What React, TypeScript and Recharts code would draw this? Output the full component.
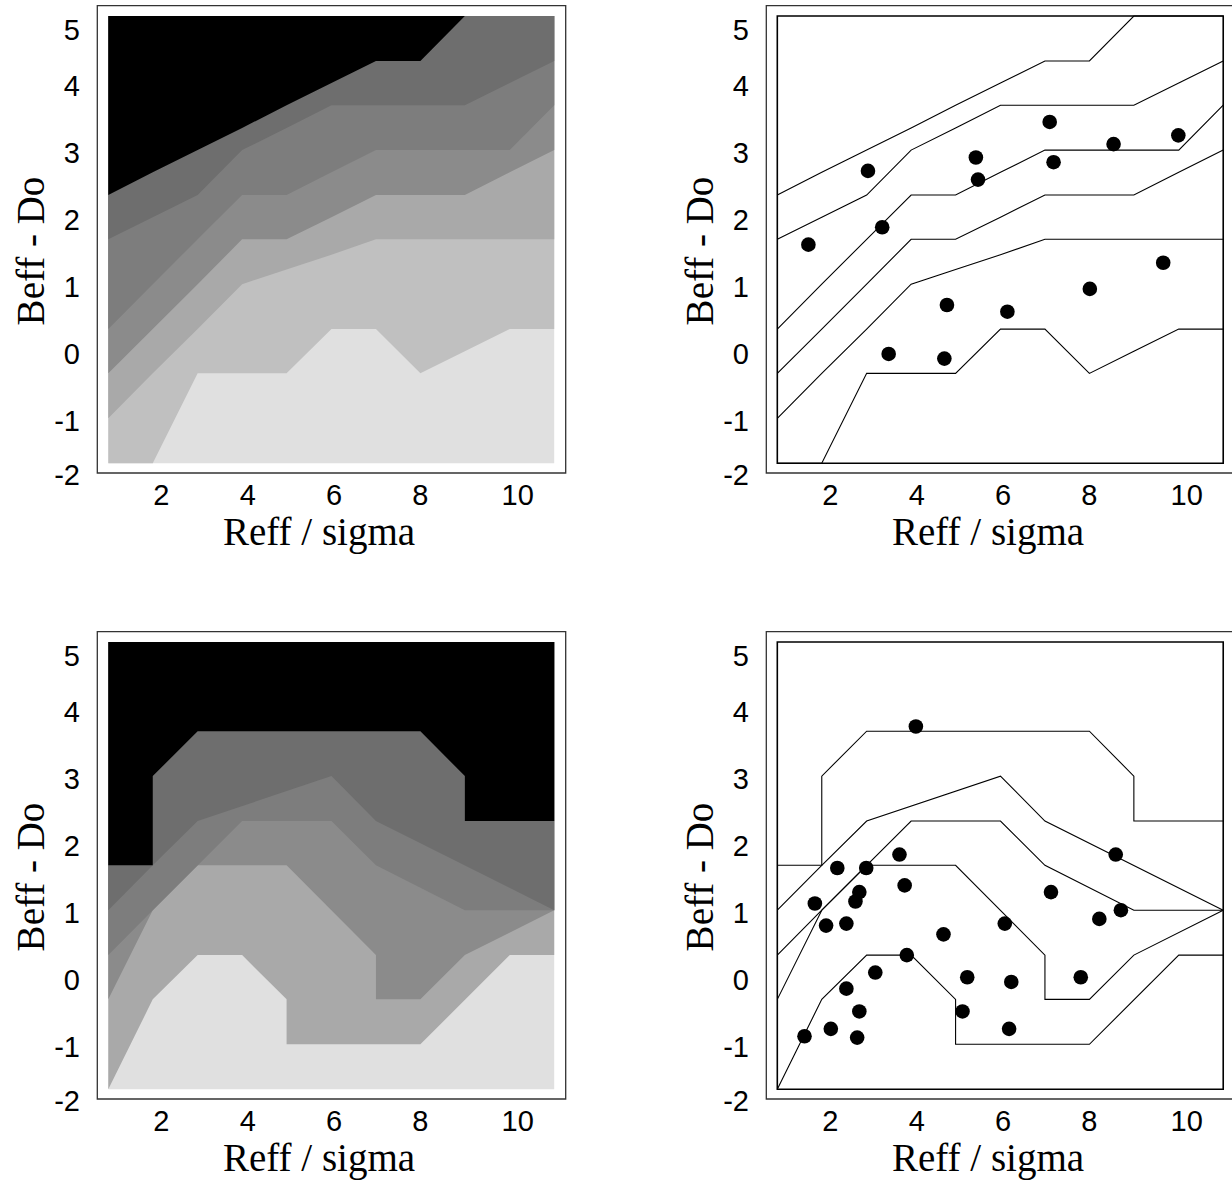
import React from "react";
import { Area, ComposedChart, Line, ReferenceArea, Scatter, XAxis, YAxis } from "recharts";

// grid columns (x) where contour vertices sit
const gridX = [0.77, 1.8, 2.84, 3.87, 4.9, 5.94, 6.97, 8.0, 9.03, 10.07, 11.1];
const fillTop = 5.0;
const fillBottom = -1.67;
const xDomain = [0.515, 11.366];
const yDomain = [-1.816, 5.154];
const xTicks = [2, 4, 6, 8, 10];
const yTicks = [-2, -1, 0, 1, 2, 3, 4, 5];

// upper row: contour height at each grid column, lowest level first
const upperC1 = [-1.67, -1.67, -0.33, -0.33, -0.33, 0.33, 0.33, -0.33, 0.0, 0.33, 0.33];
const upperC2 = [-1.0, -0.33, 0.33, 1.0, 1.22, 1.44, 1.67, 1.67, 1.67, 1.67, 1.67];
const upperC3 = [-0.33, 0.33, 1.0, 1.67, 1.67, 2.0, 2.33, 2.33, 2.33, 2.67, 3.0];
const upperC4 = [0.33, 1.0, 1.67, 2.33, 2.33, 2.67, 3.0, 3.0, 3.0, 3.0, 3.67];
const upperC5 = [1.67, 2.0, 2.33, 3.0, 3.33, 3.67, 3.67, 3.67, 3.67, 4.0, 4.33];
const upperC6 = [2.33, 2.67, 3.0, 3.33, 3.67, 4.0, 4.33, 4.33, 5.0, 5.0, 5.0];
const upperColors = ["#c0c0c0", "#a9a9a9", "#8b8b8b", "#7d7d7d", "#6e6e6e", "#000000"];

// lower row: contour vertices [x, y], lowest level first
const lowerC1 = [[0.77, -1.67], [1.8, -0.33], [2.84, 0.33], [3.87, 0.33], [4.9, -0.33], [4.9, -1.0], [8.0, -1.0], [10.07, 0.33], [11.1, 0.33]];
const lowerC2 = [[0.77, -0.33], [1.8, 1.0], [2.84, 1.67], [4.9, 1.67], [6.97, 0.33], [6.97, -0.33], [8.0, -0.33], [9.03, 0.33], [11.1, 1.0]];
const lowerC3 = [[0.77, 0.33], [1.8, 1.0], [3.87, 2.33], [5.94, 2.33], [6.97, 1.67], [9.03, 1.0], [11.1, 1.0]];
const lowerC4 = [[0.77, 1.0], [1.8, 1.67], [2.84, 2.33], [5.94, 3.0], [6.97, 2.33], [11.1, 1.0]];
const lowerC5 = [[0.77, 1.67], [1.8, 1.67], [1.8, 3.0], [2.84, 3.67], [8.0, 3.67], [9.03, 3.0], [9.03, 2.33], [11.1, 2.33]];
const lowerColors = ["#a9a9a9", "#8b8b8b", "#7d7d7d", "#6e6e6e", "#000000"];

// measured points
const upperDotX = [1.49, 2.87, 3.2, 3.35, 4.7, 4.64, 5.37, 5.42, 6.1, 7.08, 7.17, 8.01, 8.56, 9.71, 10.06];
const upperDotY = [1.59, 2.69, 1.85, -0.04, 0.69, -0.11, 2.89, 2.56, 0.59, 3.42, 2.82, 0.93, 3.09, 1.32, 3.22];
const lowerDotX = [3.98, 3.6, 8.61, 2.16, 2.83, 1.64, 2.67, 2.58, 3.72, 1.9, 2.37, 7.11, 8.73, 8.23, 6.04, 4.62, 3.77, 3.04, 5.17, 6.19, 7.8, 2.37, 2.67, 5.06, 1.4, 2.01, 2.62, 6.14];
const lowerDotY = [3.74, 1.83, 1.83, 1.63, 1.63, 1.1, 1.27, 1.13, 1.37, 0.77, 0.8, 1.27, 1.0, 0.87, 0.8, 0.64, 0.33, 0.07, 0.0, -0.07, 0.0, -0.17, -0.51, -0.51, -0.88, -0.77, -0.9, -0.77];

const sans = "'Liberation Sans', Arial, sans-serif";
const serif = "'Liberation Serif', 'Times New Roman', serif";

const onGrid = (ys: number[]) => gridX.map((x, i) => ({ x, y: ys[i] }));
const fromPairs = (pts: number[][]) => pts.map(([x, y]) => ({ x, y }));
const zip = (xs: number[], ys: number[]) => xs.map((x, i) => ({ x, y: ys[i] }));

const upperLines = [upperC1, upperC2, upperC3, upperC4, upperC5, upperC6].map(onGrid);
const lowerLines = [lowerC1, lowerC2, lowerC3, lowerC4, lowerC5].map(fromPairs);
const background = [{ x: gridX[0], y: fillBottom }, { x: gridX[10], y: fillBottom }];

const renderXTick = (p: any) => {
  const v = p.payload.value;
  return (
    <text x={p.x + (v >= 10 ? 11 : 0)} y={505} textAnchor="middle" fontFamily={sans} fontSize={29} fill="#000">
      {v}
    </text>
  );
};

const renderYTick = (p: any) => {
  const c = Math.min(Math.max(p.y + 2.5, 30), 475);
  return (
    <text x={80} y={c + 10.4} textAnchor="end" fontFamily={sans} fontSize={29} fill="#000">
      {String(p.payload.value)}
    </text>
  );
};

const renderXTitle = () => (
  <text x={319} y={545} textAnchor="middle" fontFamily={serif} fontSize={39} fill="#000">
    Reff / sigma
  </text>
);

const renderYTitle = () => (
  <text x={43.5} y={251} transform="rotate(-90 43.5 251)" textAnchor="middle" fontFamily={serif} fontSize={39} fill="#000">
    Beff - Do
  </text>
);

const renderDot = (p: any) => <circle cx={p.cx} cy={p.cy} r={7.3} fill="#000" />;

type PanelProps = {
  left: number;
  top: number;
  lines: { x: number; y: number }[][];
  colors?: string[];
  dots?: { x: number; y: number }[];
};

function Panel({ left, top, lines, colors, dots }: PanelProps) {
  return (
    <div style={{ position: "absolute", left, top }}>
      <ComposedChart width={600} height={600} margin={{ top: 5.7, right: 34.3, bottom: 0, left: 0 }}>
        <XAxis
          type="number"
          dataKey="x"
          domain={xDomain}
          ticks={xTicks}
          interval={0}
          allowDataOverflow
          axisLine={false}
          tickLine={false}
          tick={renderXTick}
          height={127}
          label={renderXTitle}
        />
        <YAxis
          type="number"
          dataKey="y"
          domain={yDomain}
          ticks={yTicks}
          interval={0}
          allowDataOverflow
          axisLine={false}
          tickLine={false}
          tick={renderYTick}
          width={97.3}
          label={renderYTitle}
        />
        {colors && (
          <Area
            data={background}
            dataKey="y"
            baseValue={fillTop}
            type="linear"
            fill="#e0e0e0"
            fillOpacity={1}
            stroke="none"
            isAnimationActive={false}
          />
        )}
        {colors &&
          lines.map((pts, i) => (
            <Area
              key={`a${i}`}
              data={pts}
              dataKey="y"
              baseValue={fillTop}
              type="linear"
              fill={colors[i]}
              fillOpacity={1}
              stroke="none"
              isAnimationActive={false}
            />
          ))}
        {!colors &&
          lines.map((pts, i) => (
            <Line
              key={`l${i}`}
              data={pts}
              dataKey="y"
              type="linear"
              stroke="#000"
              strokeWidth={1.1}
              dot={false}
              activeDot={false}
              isAnimationActive={false}
            />
          ))}
        {!colors && (
          <ReferenceArea
            x1={gridX[0]}
            x2={gridX[10]}
            y1={fillBottom}
            y2={fillTop}
            fill="none"
            stroke="#000"
            strokeWidth={1.6}
          />
        )}
        {dots && <Scatter data={dots} shape={renderDot} isAnimationActive={false} />}
        <ReferenceArea
          x1={xDomain[0]}
          x2={xDomain[1]}
          y1={yDomain[0]}
          y2={yDomain[1]}
          fill="none"
          stroke="#333"
          strokeWidth={1.3}
        />
      </ComposedChart>
    </div>
  );
}

export default function App() {
  return (
    <div
      style={{
        position: "absolute",
        left: 0,
        top: 0,
        width: 1232,
        height: 1186,
        overflow: "hidden",
        background: "#fff",
      }}
    >
      <Panel left={0} top={0} lines={upperLines} colors={upperColors} />
      <Panel left={669.4} top={0} lines={upperLines} dots={zip(upperDotX, upperDotY)} />
      <Panel left={0} top={625.7} lines={lowerLines} colors={lowerColors} />
      <Panel left={669.4} top={625.7} lines={lowerLines} dots={zip(lowerDotX, lowerDotY)} />
    </div>
  );
}
